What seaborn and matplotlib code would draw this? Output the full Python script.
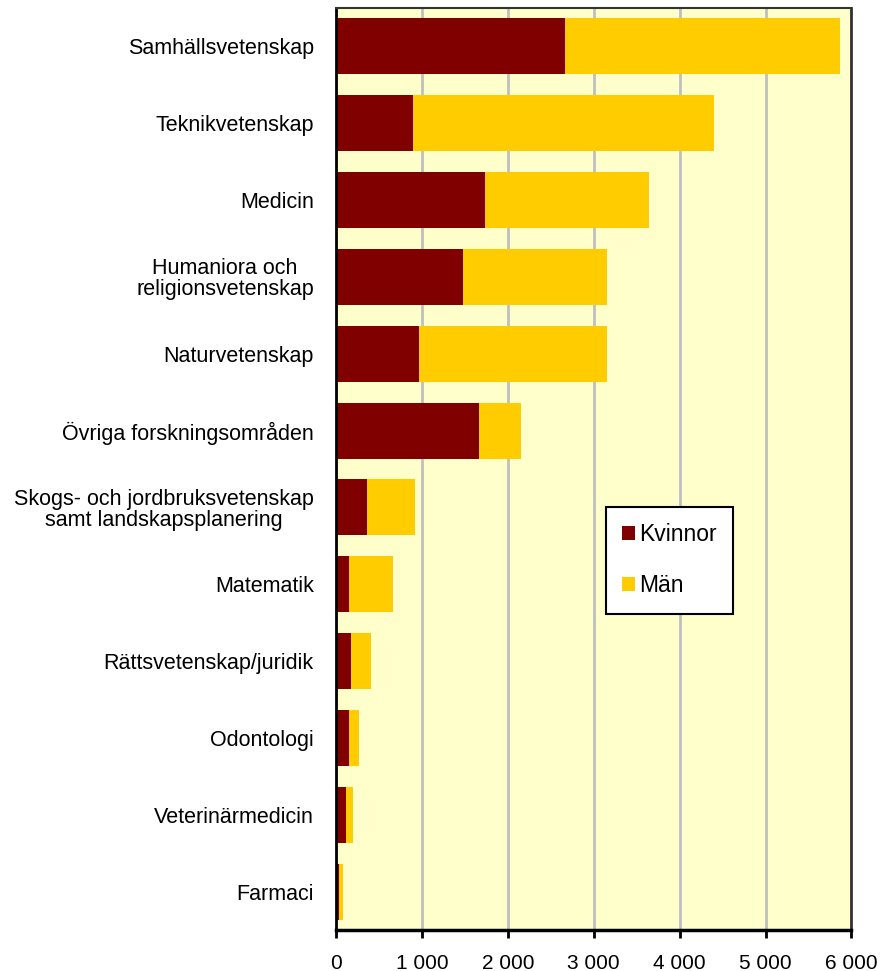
import matplotlib
matplotlib.use("Agg")
import matplotlib.pyplot as plt
import seaborn as sns
import pandas as pd
from matplotlib.patches import Patch
from matplotlib.ticker import FuncFormatter

categories = [
    "Samhällsvetenskap",
    "Teknikvetenskap",
    "Medicin",
    "Humaniora och\nreligionsvetenskap",
    "Naturvetenskap",
    "Övriga forskningsområden",
    "Skogs- och jordbruksvetenskap\nsamt landskapsplanering",
    "Matematik",
    "Rättsvetenskap/juridik",
    "Odontologi",
    "Veterinärmedicin",
    "Farmaci",
]
kvinnor = [2662, 891, 1730, 1479, 961, 1660, 359, 149, 172, 149, 122, 40]
man = [3206, 3514, 1910, 1672, 2190, 489, 559, 513, 233, 117, 78, 45]
series_labels = ["Kvinnor", "Män"]
xticks = [0, 1000, 2000, 3000, 4000, 5000, 6000]

C_K = "#800000"
C_M = "#FFCC00"
BG = "#FFFFCC"

df = pd.DataFrame({"cat": categories, "K": kvinnor, "M": man})
df["total"] = df["K"] + df["M"]

sns.set_theme(style="white")
plt.rcParams["font.family"] = ["Liberation Sans", "DejaVu Sans"]
plt.rcParams["text.color"] = "black"
plt.rcParams["xtick.color"] = "black"
plt.rcParams["ytick.color"] = "black"

fig = plt.figure(figsize=(8.84, 9.71), dpi=100)
ax = fig.add_axes([0.3801, 0.0422, 0.5831, 0.9496])
ax.set_facecolor(BG)

sns.barplot(data=df, x="total", y="cat", color=C_M, orient="h", width=0.73,
            saturation=1, ax=ax, linewidth=0, zorder=3)
sns.barplot(data=df, x="K", y="cat", color=C_K, orient="h", width=0.73,
            saturation=1, ax=ax, linewidth=0, zorder=3)

ax.set_xlim(0, 6000)
ax.set_ylim(len(categories) - 0.5, -0.5)
ax.set_xticks(xticks)
ax.xaxis.set_major_formatter(FuncFormatter(lambda v, p: f"{int(v):,}".replace(",", " ")))
ax.grid(axis="x", color="#C0C0C0", linewidth=2, zorder=0)
ax.set_axisbelow(True)
ax.set_xlabel("")
ax.set_ylabel("")

for side in ["left", "bottom", "top", "right"]:
    ax.spines[side].set_visible(True)
    ax.spines[side].set_color("black")
    ax.spines[side].set_zorder(5)
ax.spines["left"].set_linewidth(2)
ax.spines["bottom"].set_linewidth(2.5)
ax.spines["top"].set_linewidth(1.5)
ax.spines["right"].set_linewidth(2)
ax.spines["top"].set_color("#333333")
ax.spines["right"].set_color("#333333")

ax.tick_params(axis="x", direction="out", length=6, width=2, color="black",
               labelsize=15, pad=11, bottom=True, labelcolor="black")
ax.tick_params(axis="y", length=0, labelsize=15.5, pad=16, labelcolor="black")
for lab in ax.get_yticklabels():
    lab.set_multialignment("center")
    lab.set_linespacing(1.0)

handles = [Patch(facecolor=C_K, edgecolor="none"), Patch(facecolor=C_M, edgecolor="none")]
leg = ax.legend(handles, series_labels, loc="upper left", bbox_to_anchor=(0.524, 0.459),
                frameon=True, fancybox=False, edgecolor="black", facecolor="white",
                fontsize=16.5, handlelength=0.55, handleheight=0.55, handletextpad=0.2,
                labelspacing=1.25, borderpad=0.7, borderaxespad=0, framealpha=1)
leg.get_frame().set_linewidth(1.5)
for t in leg.get_texts():
    t.set_color("black")

fig.savefig("out.png", dpi=100, facecolor="white")
